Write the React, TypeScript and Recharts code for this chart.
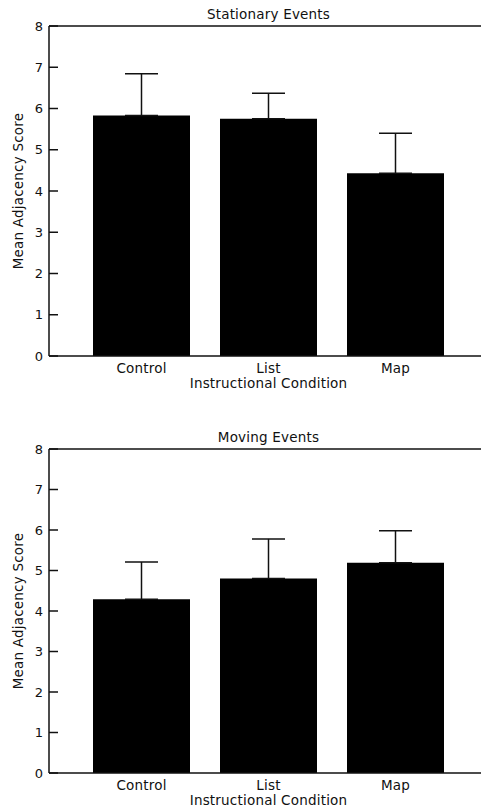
import { Bar, BarChart, ErrorBar, Label, ReferenceLine, XAxis, YAxis } from "recharts";

const CATEGORIES = ["Control", "List", "Map"];
const STATIONARY_MEANS = [5.83, 5.75, 4.43];
const STATIONARY_ERRORS = [1.01, 0.62, 0.97];
const MOVING_MEANS = [4.29, 4.8, 5.19];
const MOVING_ERRORS = [0.92, 0.98, 0.79];
const Y_TICKS = [0, 1, 2, 3, 4, 5, 6, 7, 8];

const FONT = "'DejaVu Sans', sans-serif";
const INK = "#111";
const textStyle = { fontFamily: FONT, fontSize: 13.5, letterSpacing: 0.2, fill: INK };
const tickStyle = { fontFamily: FONT, fontSize: 13, fill: INK };

function LeftTick(props: any) {
  const { x, y, payload } = props;
  return (
    <g>
      <line x1={x + 6} x2={x + 15} y1={y} y2={y} stroke={INK} strokeWidth={1.5} />
      <text x={x} y={y} dy={4.7} textAnchor="end" style={tickStyle}>
        {payload.value}
      </text>
    </g>
  );
}

function RightTick(props: any) {
  const { x, y } = props;
  return <line x1={x - 10} x2={x} y1={y} y2={y} stroke={INK} strokeWidth={1.5} />;
}

function Panel({ title, means, errors, top, marginTop, plotHeight }: {
  title: string;
  means: number[];
  errors: number[];
  top: number;
  marginTop: number;
  plotHeight: number;
}) {
  const data = CATEGORIES.map((c, i) => ({ name: c, mean: means[i], err: [0, errors[i]] }));
  const height = marginTop + plotHeight + 36;
  return (
    <div style={{ position: "absolute", left: 0, top, width: 500, height }}>
      <div
        style={{
          position: "absolute",
          left: 49,
          width: 439,
          top: marginTop - 20,
          textAlign: "center",
          fontFamily: FONT,
          fontSize: 13.5,
          letterSpacing: 0.2,
          lineHeight: "16px",
          color: INK,
        }}
      >
        {title}
      </div>
      <BarChart
        width={500}
        height={height}
        data={data}
        margin={{ top: marginTop, right: 0, left: 9, bottom: 0 }}
        barSize={97}
      >
        <XAxis
          dataKey="name"
          padding={{ left: 29, right: 29 }}
          tickLine={false}
          tickSize={0}
          tickMargin={7}
          height={36}
          axisLine={{ stroke: INK, strokeWidth: 1.5 }}
          tick={textStyle}
        >
          <Label
            content={(p: any) => (
              <text
                x={p.viewBox.x + p.viewBox.width / 2}
                y={p.viewBox.y + 32}
                textAnchor="middle"
                style={textStyle}
              >
                Instructional Condition
              </text>
            )}
          />
        </XAxis>
        <YAxis
          yAxisId="l"
          width={40}
          domain={[0, 8]}
          ticks={Y_TICKS}
          interval={0}
          tickLine={false}
          tickSize={0}
          tickMargin={6}
          axisLine={{ stroke: INK, strokeWidth: 1.5 }}
          tick={<LeftTick />}
        >
          <Label
            content={(p: any) => {
              const cx = p.viewBox.x + 14;
              const cy = p.viewBox.y + p.viewBox.height / 2;
              return (
                <text x={cx} y={cy} textAnchor="middle" transform={`rotate(-90 ${cx} ${cy})`} style={textStyle}>
                  Mean Adjacency Score
                </text>
              );
            }}
          />
        </YAxis>
        <YAxis
          yAxisId="r"
          orientation="right"
          width={12}
          domain={[0, 8]}
          ticks={Y_TICKS}
          interval={0}
          tickLine={false}
          tickSize={0}
          tickMargin={0}
          axisLine={{ stroke: INK, strokeWidth: 1.5 }}
          tick={<RightTick />}
        />
        <ReferenceLine yAxisId="l" y={8} stroke={INK} strokeWidth={1.5} />
        <Bar yAxisId="l" dataKey="mean" fill="#000" isAnimationActive={false}>
          <ErrorBar dataKey="err" direction="y" width={16.5} stroke={INK} strokeWidth={1.5} />
        </Bar>
      </BarChart>
    </div>
  );
}

export default function App() {
  return (
    <div style={{ position: "fixed", left: 0, top: 0, width: 481, height: 808, overflow: "hidden", background: "#fff" }}>
      <Panel title="Stationary Events" means={STATIONARY_MEANS} errors={STATIONARY_ERRORS} top={0} marginTop={26} plotHeight={330} />
      <Panel title="Moving Events" means={MOVING_MEANS} errors={MOVING_ERRORS} top={420} marginTop={29} plotHeight={324} />
    </div>
  );
}
